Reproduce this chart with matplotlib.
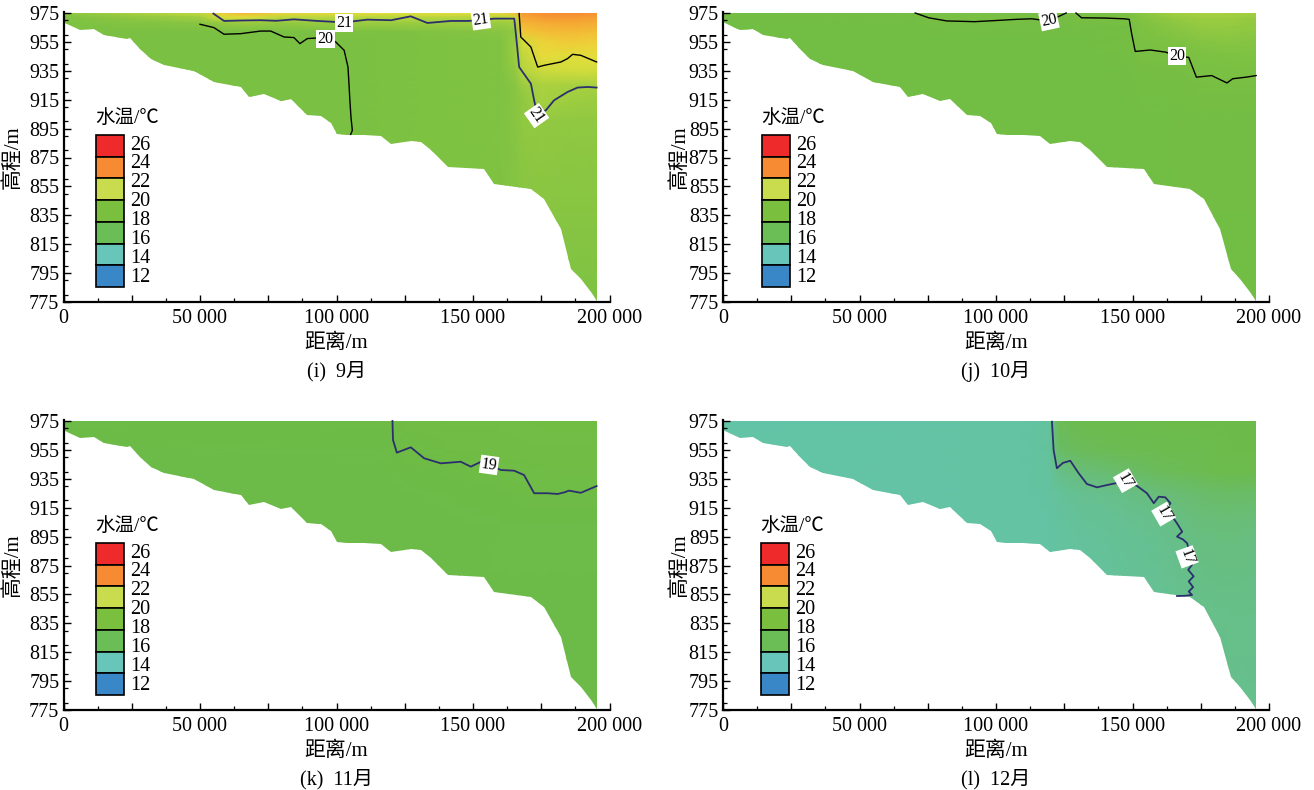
import numpy as np
import matplotlib
matplotlib.use("Agg")
import matplotlib.pyplot as plt
from matplotlib.colors import LinearSegmentedColormap, Normalize
from matplotlib.patches import Polygon, Rectangle
from matplotlib.ticker import MultipleLocator, FuncFormatter

# ---------------- data ----------------
bed_x = [0, 1400, 6200, 11100, 14800, 23400, 24500, 28200, 31900, 36800, 47800, 55100,
         64900, 67900, 73400, 79600, 83200, 89300, 94200, 98000, 100300, 104000, 110100,
         116200, 119900, 127200, 130900, 134500, 140700, 154100, 157800, 171200, 176100,
         182200, 185900, 189500, 193200, 195300]
bed_z = [969.0, 967.5, 963.0, 963.7, 959.6, 957.2, 957.7, 950.3, 943.4, 938.8, 934.9, 927.2,
         923.8, 916.9, 919.2, 914.1, 915.3, 904.2, 903.5, 899.0, 891.5, 890.8, 890.3,
         889.9, 884.6, 886.2, 885.7, 880.0, 868.4, 867.2, 856.9, 853.4, 846.5,
         825.7, 798.0, 791.1, 781.9, 775.5]
surface_z = 975.0

# September field
sep_x = [0, 50000, 58000, 66000, 80000, 100000, 130000, 160000, 165500, 168000, 175000, 185000, 195300]
sep_z = [975, 972, 968, 962, 955, 945, 935, 925, 915, 900, 775]
sep_t = [
    [20.7, 21.5, 22.5, 23.0, 22.3, 22.1, 22.0, 22.1, 22.8, 23.6, 23.9, 24.0, 23.8],
    [20.5, 21.0, 21.8, 22.0, 21.4, 21.3, 21.3, 21.3, 21.6, 23.3, 23.6, 23.7, 23.5],
    [20.4, 20.6, 20.8, 20.9, 20.8, 20.9, 20.9, 20.9, 21.0, 23.0, 23.2, 23.3, 23.2],
    [20.3, 20.2, 20.1, 20.1, 20.1, 20.3, 20.5, 20.6, 20.8, 22.6, 22.8, 22.9, 22.8],
    [20.2, 20.0, 20.0, 20.0, 20.0, 20.1, 20.4, 20.5, 20.9, 21.7, 22.3, 22.5, 22.4],
    [20.2, 20.0, 20.0, 20.0, 20.0, 20.1, 20.4, 20.5, 20.9, 21.4, 22.1, 21.95, 22.05],
    [20.2, 20.0, 20.0, 20.0, 20.0, 20.1, 20.4, 20.5, 20.8, 21.2, 21.6, 21.7, 21.7],
    [20.2, 20.0, 20.0, 20.0, 20.0, 20.1, 20.4, 20.5, 20.6, 20.9, 21.1, 21.05, 21.05],
    [20.2, 20.0, 20.0, 20.0, 20.0, 20.1, 20.4, 20.5, 20.6, 20.7, 21.05, 20.95, 20.9],
    [20.2, 20.0, 20.0, 20.0, 20.0, 20.1, 20.4, 20.5, 20.6, 20.7, 20.8, 20.7, 20.7],
    [20.2, 20.0, 20.0, 20.0, 20.0, 20.1, 20.4, 20.4, 20.4, 20.4, 20.4, 20.4, 20.4],
]
sep_c21_x = [54900, 58800, 65000, 72200, 78000, 84400, 93000, 102800, 111300, 120000, 127200, 133300,
             141900, 148000, 152900, 157700, 165100, 165700, 166900, 171200, 172400, 173500,
             176700, 179700, 184600, 188300, 192000, 195300]
sep_c21_z = [974.6, 969.5, 969.8, 970.0, 969.6, 970.6, 969.5, 968.5, 970.4, 970.0, 972.7, 968.1,
             969.5, 969.5, 970.0, 971.1, 971.1, 960.7, 937.6, 926.1, 914.6, 905.0,
             907.7, 914.6, 920.3, 923.4, 923.8, 923.4]
sep_c20_x = [50000, 55100, 58800, 64900, 72200, 75900, 80800, 84400, 86600, 89300, 95400, 99700,
             102800, 104200, 104600, 104900, 105300, 105800, 105200]
sep_c20_z = [967.2, 964.9, 960.3, 960.7, 962.5, 962.5, 958.4, 958.0, 953.8, 957.3, 958.0, 955.0,
             949.2, 937.6, 925.0, 914.6, 903.0, 893.8, 891.0]
sep_c22_x = [166900, 167500, 171200, 173700, 176100, 182200, 184600, 186500, 189500, 195300]
sep_c22_z = [974.6, 958.4, 951.5, 937.6, 938.8, 941.1, 943.4, 946.4, 945.7, 941.1]

# October field
oct_x = [0, 70000, 75000, 100000, 125000, 130000, 148000, 152000, 165000, 175000, 185000, 195300]
oct_z = [975, 971, 965, 955, 945, 935, 925, 900, 775]
oct_t = [
    [19.7, 19.9, 20.1, 20.1, 19.9, 20.0, 20.2, 20.6, 21.0, 21.1, 21.1, 21.0],
    [19.6, 19.7, 19.95, 20.05, 19.8, 19.95, 20.05, 20.5, 20.8, 20.9, 20.9, 20.8],
    [19.5, 19.5, 19.6, 19.6, 19.6, 19.6, 19.7, 20.3, 20.6, 20.75, 20.75, 20.7],
    [19.5, 19.5, 19.5, 19.5, 19.5, 19.5, 19.8, 20.15, 20.4, 20.55, 20.6, 20.55],
    [19.5, 19.5, 19.5, 19.5, 19.5, 19.5, 19.7, 19.95, 20.05, 20.3, 20.4, 20.4],
    [19.5, 19.5, 19.5, 19.5, 19.5, 19.5, 19.6, 19.7, 19.8, 20.1, 20.15, 20.15],
    [19.5, 19.5, 19.5, 19.5, 19.5, 19.5, 19.6, 19.65, 19.7, 19.9, 19.95, 19.9],
    [19.5, 19.5, 19.5, 19.5, 19.5, 19.5, 19.5, 19.5, 19.55, 19.6, 19.6, 19.6],
    [19.5, 19.5, 19.5, 19.5, 19.5, 19.5, 19.5, 19.5, 19.5, 19.5, 19.5, 19.5],
]
oct_c20a_x = [70400, 75300, 82000, 92200, 100000, 107400, 113000, 119400, 125700]
oct_c20a_z = [975.0, 971.7, 969.5, 969.0, 969.8, 970.6, 971.0, 969.5, 975.0]
oct_c20b_x = [129300, 131300, 140000, 146800, 148800, 149600, 151000, 156500, 162200, 166400,
              170600, 173400, 179000, 184600, 186700, 191600, 195300]
oct_c20b_z = [975.0, 971.7, 971.5, 971.0, 970.6, 961.6, 948.4, 949.4, 947.9, 945.0,
              944.3, 930.6, 931.7, 926.6, 929.5, 930.6, 931.7]

# November field
nov_x = [0, 118000, 125000, 140000, 160000, 170000, 180000, 195300]
nov_z = [975, 960, 950, 940, 930, 920, 900, 775]
nov_t = [
    [18.7, 18.9, 19.2, 19.3, 19.3, 19.35, 19.4, 19.4],
    [18.6, 18.8, 19.1, 19.2, 19.25, 19.3, 19.3, 19.3],
    [18.6, 18.7, 18.95, 19.1, 19.2, 19.2, 19.25, 19.25],
    [18.6, 18.6, 18.8, 18.9, 19.0, 19.1, 19.15, 19.15],
    [18.6, 18.6, 18.7, 18.75, 18.85, 19.0, 19.05, 19.0],
    [18.6, 18.6, 18.65, 18.7, 18.75, 18.9, 18.9, 18.9],
    [18.6, 18.6, 18.6, 18.65, 18.7, 18.7, 18.7, 18.7],
    [18.6, 18.6, 18.6, 18.6, 18.6, 18.6, 18.6, 18.6],
]
nov_c19_x = [120500, 120700, 122100, 127200, 132100, 138200, 145500, 149200, 152900, 155900,
             160200, 165100, 168700, 172400, 177300, 181000, 183400, 185200, 189500, 195300]
nov_c19_z = [975.0, 961.9, 953.1, 956.8, 949.2, 945.7, 946.8, 943.4, 946.8, 944.6,
             941.1, 940.6, 937.6, 925.0, 925.0, 924.5, 925.6, 926.8, 925.3, 930.0]

# December field
dec_x = [0, 110000, 119500, 123000, 130000, 145000, 160000, 175000, 185000, 195300]
dec_z = [975, 955, 940, 925, 910, 890, 870, 850, 775]
dec_t = [
    [16.2, 16.3, 16.5, 17.9, 18.2, 18.3, 18.4, 18.5, 18.5, 18.5],
    [16.2, 16.3, 16.5, 17.6, 17.8, 18.0, 18.1, 18.2, 18.4, 18.5],
    [16.2, 16.3, 16.45, 17.0, 17.2, 17.5, 17.8, 18.0, 18.3, 18.3],
    [16.2, 16.3, 16.4, 16.55, 16.8, 17.0, 17.3, 17.5, 17.6, 17.55],
    [16.2, 16.3, 16.35, 16.45, 16.6, 16.8, 17.0, 17.25, 17.35, 17.3],
    [16.2, 16.3, 16.35, 16.4, 16.5, 16.7, 16.85, 17.1, 17.15, 17.1],
    [16.2, 16.3, 16.35, 16.4, 16.5, 16.6, 16.8, 17.05, 17.1, 17.05],
    [16.2, 16.3, 16.35, 16.4, 16.5, 16.6, 16.75, 16.95, 17.0, 17.0],
    [16.2, 16.3, 16.35, 16.4, 16.5, 16.6, 16.7, 16.85, 16.9, 16.9],
]
dec_c17_x = [120500, 121100, 122300, 124500, 127200, 130300, 133300, 137000, 140700, 144000,
             147400, 151700, 155300, 157800, 159600, 162000, 163900, 162500, 164500, 166300,
             168200, 166300, 168500, 170000, 170800, 170000, 171800, 170400, 172400, 170600,
             172200, 170600, 171800, 169000, 166300]
dec_c17_z = [974.5, 954.9, 942.3, 946.0, 947.5, 938.8, 931.4, 929.1, 930.7, 932.0,
             933.7, 930.0, 925.0, 918.1, 922.6, 922.2, 918.1, 914.0, 909.0, 904.2,
             898.4, 895.0, 893.0, 890.4, 885.0, 881.0, 875.5, 872.0, 867.5, 864.0,
             860.0, 857.0, 854.6, 854.0, 853.9]

legend_levels = [26, 24, 22, 20, 18, 16, 14, 12]
captions = ["(i)  9月", "(j)  10月", "(k)  11月", "(l)  12月"]

# ---------------- style ----------------
cmap_anchors = [(12, "#3a87c8"), (14, "#66c6b8"), (16, "#62c4ab"), (16.5, "#64c29d"),
                (17, "#67bf88"), (17.5, "#6abc6a"), (18, "#6cbb52"), (18.6, "#6cbb48"),
                (19.5, "#72bd44"), (20.5, "#7fc242"), (21, "#a3cf40"), (21.5, "#c4d93d"),
                (22, "#e3df3b"), (22.5, "#f0cd38"), (23, "#f4b535"), (23.5, "#f5a032"),
                (24, "#f68b33"), (26, "#ee2a2a")]
vmin, vmax = 12, 26
cmap = LinearSegmentedColormap.from_list(
    "wt", [((v - vmin) / (vmax - vmin), c) for v, c in cmap_anchors])
norm = Normalize(vmin, vmax)
legend_colors = ["#ee2a2a", "#f68b33", "#c8dc4e", "#7abf3e", "#6abe55", "#67c6b9", "#3a87c8"]
NAVY = "#2c2f6d"
SERIF = ["Liberation Serif", "Noto Sans CJK SC"]
plt.rcParams["font.family"] = SERIF
plt.rcParams["axes.unicode_minus"] = False

W, H = 1314, 790
fig = plt.figure(figsize=(W / 100, H / 100), dpi=100)

panel_origin = [(63.5, 13), (723, 13), (63.5, 421), (723, 421)]
ylabel_right = [23, 690, 23, 690]
legend_origin = [(96, 135), (762, 135), (96, 543), (761, 543)]
px_w = 546.0
px_h = 289.0


def thousands(v, pos):
    if abs(v % 50000) > 1:
        return ""
    return f"{int(v):,}".replace(",", " ")


def make_axes(i):
    x0, y0 = panel_origin[i]
    ax = fig.add_axes([x0 / W, 1 - (y0 + px_h) / H, px_w / W, (px_h + px_h / 200.0) / H])
    ax.set_xlim(0, 200000)
    ax.set_ylim(775, 976)
    for s in ["top", "right"]:
        ax.spines[s].set_visible(False)
    for s in ["left", "bottom"]:
        ax.spines[s].set_linewidth(1.6)
    ax.xaxis.set_major_locator(MultipleLocator(25000))
    ax.xaxis.set_minor_locator(MultipleLocator(12500))
    ax.xaxis.set_major_formatter(FuncFormatter(thousands))
    ax.yaxis.set_minor_locator(MultipleLocator(10))
    ax.set_yticks(np.arange(775, 976, 20))
    ax.tick_params(which="major", direction="in", length=5, width=1, labelsize=14.5, pad=5)
    ax.tick_params(which="minor", direction="in", length=3, width=0.9)
    ax.tick_params(axis="y", which="major", pad=3)
    ax.set_ylabel("高程/m", fontsize=15, family=SERIF)
    ax.yaxis.set_label_coords((ylabel_right[i] - x0) / px_w, 0.5)
    ax.text(0.5, -41.0 / px_h, "距离/m", transform=ax.transAxes, ha="center", va="center",
            fontsize=15, family=SERIF)
    ax.text(0.5, -69.0 / px_h, captions[i], transform=ax.transAxes, ha="center", va="center",
            fontsize=14.5, family=SERIF)
    return ax


def draw_field(ax, xs, zs, ts):
    X, Z = np.meshgrid(np.array(xs, float), np.array(zs, float))
    mesh = ax.pcolormesh(X, Z, np.array(ts, float), shading="gouraud", cmap=cmap, norm=norm,
                         zorder=1, rasterized=True)
    verts = [(bed_x[0], surface_z), (bed_x[-1], surface_z)] + list(zip(bed_x[::-1], bed_z[::-1]))
    poly = Polygon(verts, closed=True, facecolor="none", edgecolor="none",
                   transform=ax.transData)
    ax.add_patch(poly)
    mesh.set_clip_path(poly)


def contour_line(ax, xs, zs, color, lw=1.3):
    ax.plot(xs, zs, color=color, lw=lw, zorder=3, solid_joinstyle="round")


def contour_label(ax, x, z, text, rot):
    ax.text(x, z, text, rotation=rot, ha="center", va="center", fontsize=11.5, zorder=5,
            family=SERIF, bbox=dict(facecolor="white", edgecolor="none", pad=0.8))


def draw_legend(i):
    lx, ly = legend_origin[i]
    bw = 28.0
    total = 152.0
    bh = total / len(legend_colors)
    fig.text((lx - 1) / W, 1 - (ly - 17) / H, "水温/℃", ha="left", va="center",
             fontsize=14, family=SERIF)
    for k, c in enumerate(legend_colors):
        r = Rectangle((lx / W, 1 - (ly + (k + 1) * bh) / H), bw / W, bh / H,
                      transform=fig.transFigure, facecolor=c, edgecolor="black", lw=1.2)
        fig.add_artist(r)
    for k, lev in enumerate(legend_levels):
        yy = ly + 10 + k * (total - 20) / (len(legend_levels) - 1)
        fig.text((lx + bw + 6) / W, 1 - yy / H, str(lev), ha="left", va="center",
                 fontsize=14.5, family=SERIF)


axes = [make_axes(i) for i in range(4)]

# (i) September
ax = axes[0]
draw_field(ax, sep_x, sep_z, sep_t)
contour_line(ax, sep_c21_x, sep_c21_z, NAVY)
contour_line(ax, sep_c20_x, sep_c20_z, "black", 1.0)
contour_line(ax, sep_c22_x, sep_c22_z, "black", 1.0)
contour_label(ax, 102800, 968.3, "21", 0)
contour_label(ax, 152900, 970.0, "21", 8)
contour_label(ax, 96000, 957.0, "20", 0)
contour_label(ax, 173300, 904.0, "21", -55)

# (j) October
ax = axes[1]
draw_field(ax, oct_x, oct_z, oct_t)
contour_line(ax, oct_c20a_x, oct_c20a_z, "black", 1.0)
contour_line(ax, oct_c20b_x, oct_c20b_z, "black", 1.0)
contour_label(ax, 119400, 969.8, "20", 12)
contour_label(ax, 166400, 945.0, "20", 0)

# (k) November
ax = axes[2]
draw_field(ax, nov_x, nov_z, nov_t)
contour_line(ax, nov_c19_x, nov_c19_z, NAVY)
contour_label(ax, 155900, 944.6, "19", -8)

# (l) December
ax = axes[3]
draw_field(ax, dec_x, dec_z, dec_t)
contour_line(ax, dec_c17_x, dec_c17_z, NAVY)
contour_label(ax, 147400, 933.7, "17", -60)
contour_label(ax, 161400, 910.6, "17", -60)
contour_label(ax, 170000, 881.0, "17", -70)

for i in range(4):
    draw_legend(i)

fig.savefig("out.png", dpi=100)
